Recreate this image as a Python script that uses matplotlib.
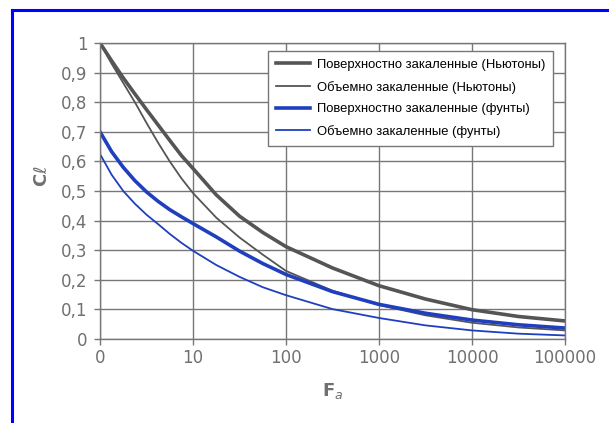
"""
C-ratio curves vs F_a for surface/through hardened parts (N and lbf)
"""

import matplotlib.pyplot as plt
from matplotlib.lines import Line2D


# data (x = decade index: 0 -> 1, 1 -> 10, ... 5 -> 100000)
x_pos = [0, 0.125, 0.25, 0.375, 0.5, 0.625, 0.75, 0.875, 1,
         1.25, 1.5, 1.75, 2, 2.5, 3, 3.5, 4, 4.5, 5]
surf_newton = [1.0, 0.94, 0.882, 0.828, 0.775, 0.723, 0.671, 0.62, 0.576,
               0.487, 0.415, 0.36, 0.312, 0.24, 0.18, 0.135, 0.099, 0.076,
               0.061]
bulk_newton = [1.0, 0.93, 0.865, 0.80, 0.73, 0.663, 0.60, 0.543, 0.493,
               0.41, 0.343, 0.285, 0.23, 0.163, 0.115, 0.08, 0.055, 0.039,
               0.029]
surf_pound = [0.70, 0.633, 0.58, 0.535, 0.497, 0.465, 0.437, 0.413, 0.39,
              0.345, 0.297, 0.255, 0.218, 0.16, 0.117, 0.087, 0.064, 0.048,
              0.037]
bulk_pound = [0.625, 0.555, 0.50, 0.457, 0.42, 0.388, 0.355, 0.325, 0.298,
              0.25, 0.21, 0.175, 0.148, 0.101, 0.071, 0.046, 0.029, 0.018,
              0.012]

labels = ["Поверхностно закаленные (Ньютоны)",
          "Объемно закаленные (Ньютоны)",
          "Поверхностно закаленные (фунты)",
          "Объемно закаленные (фунты)"]
x_ticklabels = ["0", "10", "100", "1000", "10000", "100000"]
y_ticks = [0, 0.1, 0.2, 0.3, 0.4, 0.5, 0.6, 0.7, 0.8, 0.9, 1]
y_ticklabels = ["0", "0,1", "0,2", "0,3", "0,4", "0,5", "0,6", "0,7",
                "0,8", "0,9", "1"]

grey = "#555555"
blue = "#1f3fbf"
label_col = "#707070"

fig = plt.figure(figsize=(6.09, 4.23), dpi=100)
ax = fig.add_axes([100/609, 84/423, 465/609, 296/423])

ax.plot(x_pos, surf_newton, color=grey, lw=2.6, label=labels[0])
ax.plot(x_pos, bulk_newton, color=grey, lw=1.3, label=labels[1])
ax.plot(x_pos, surf_pound, color=blue, lw=2.6, label=labels[2])
ax.plot(x_pos, bulk_pound, color=blue, lw=1.3, label=labels[3])

ax.set_xlim(0, 5)
ax.set_ylim(0, 1)
ax.set_xticks(range(6))
ax.set_xticklabels(x_ticklabels)
ax.set_yticks(y_ticks)
ax.set_yticklabels(y_ticklabels)
ax.tick_params(colors="#777777", labelcolor=label_col, labelsize=12,
               length=4, width=1)
ax.tick_params(axis="y", pad=5)
ax.grid(True, color="#777777", lw=1)
for s in ax.spines.values():
    s.set_color("#777777")
    s.set_linewidth(1)

ax.set_ylabel(r"$\mathbf{C}\ell$", color=label_col, fontsize=13)
ax.yaxis.set_label_coords(-0.106, 0.55)
ax.set_xlabel(r"$\mathbf{F}_a$", color=label_col, fontsize=13, labelpad=10)

leg = ax.legend(loc="upper right", bbox_to_anchor=(0.974, 0.973),
                borderaxespad=0,
                prop={"family": "Liberation Sans", "size": 9.4},
                fancybox=False, framealpha=1, edgecolor="#777777",
                handlelength=2.6, handletextpad=0.5, labelspacing=0.74,
                borderpad=0.6)
leg.get_frame().set_linewidth(1)

# blue frame (top and left only)
fig.add_artist(Line2D([12/609, 1], [1 - 10/423, 1 - 10/423],
                      color="#0000ff", lw=2.2, transform=fig.transFigure))
fig.add_artist(Line2D([12/609, 12/609], [0, 1 - 10/423],
                      color="#0000ff", lw=2.2, transform=fig.transFigure))

fig.savefig("out.png", dpi=100)
plt.close(fig)
